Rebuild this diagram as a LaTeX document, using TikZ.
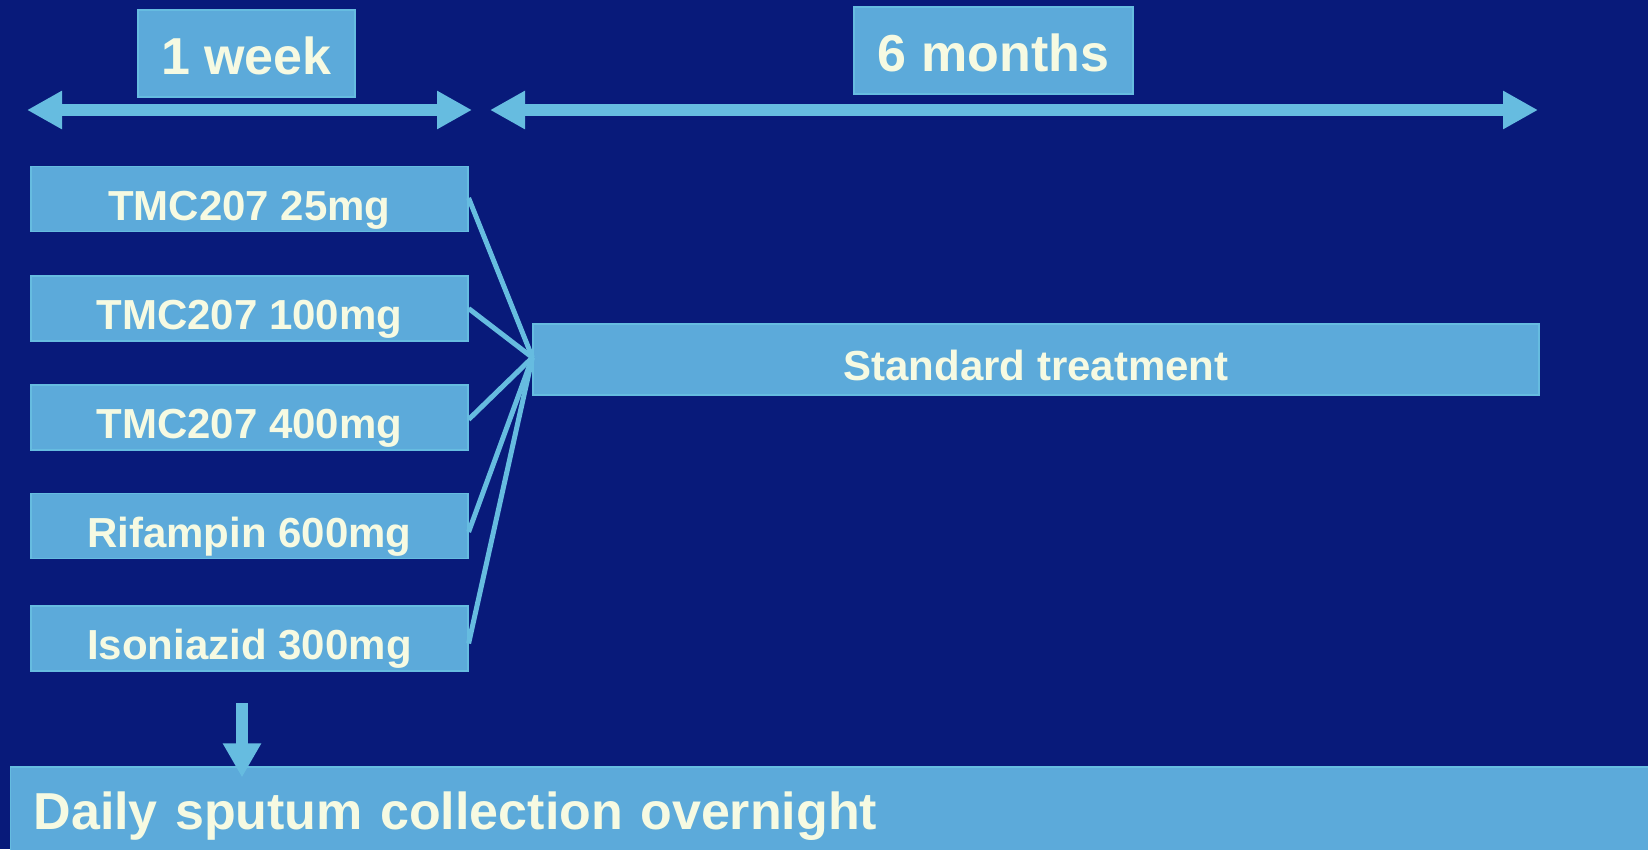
\documentclass[tikz,border=0pt]{standalone}
\usepackage{fontspec}
\setmainfont{Liberation Sans}
\usetikzlibrary{arrows.meta}

\definecolor{bgblue}{RGB}{8,26,122}
\definecolor{boxblue}{RGB}{92,170,218}
\definecolor{lineblue}{RGB}{102,188,224}
\definecolor{cream}{RGB}{246,250,226}

\tikzset{
  anybox/.style={fill=boxblue, draw=lineblue, line width=1.2pt, inner sep=0pt,
    text=cream, text depth=0pt},
  headbox/.style={anybox, minimum height=87pt, text height=41pt,
    font=\fontsize{52}{60}\selectfont\bfseries},
  drugbox/.style={anybox, minimum width=437pt, minimum height=65pt,
    text height=42pt, font=\fontsize{42}{50}\selectfont\bfseries},
  stdbox/.style={anybox, minimum width=1006pt, minimum height=71pt,
    text height=41pt, font=\fontsize{42}{50}\selectfont\bfseries},
  dailybox/.style={anybox, minimum height=84pt, inner xsep=23pt,
    text width=1592pt, align=left, text height=41pt,
    font=\fontsize{52}{60}\selectfont\bfseries},
  timespan/.style={lineblue, line width=12pt,
    {Triangle[length=35pt,width=36pt]}-{Triangle[length=35pt,width=36pt]}},
  feed/.style={lineblue, line width=5pt},
  drop/.style={lineblue, line width=12pt, -{Triangle[length=34pt,width=36pt]}}
}

\begin{document}
\begin{tikzpicture}[x=1pt,y=-1pt]

  \path[use as bounding box, fill=bgblue] (0,0) rectangle (1648,849);

  \begin{scope}   % time spans

    \def\Ty{110};
    \coordinate (W1) at (27,\Ty);
    \coordinate (W2) at (472,\Ty);
    \coordinate (M1) at (490,\Ty);
    \coordinate (M2) at (1538,\Ty);

    \draw[timespan] (W1)--(W2);
    \draw[timespan] (M1)--(M2);

    \node[headbox, minimum width=217pt] (week) at (246.5,53.5) {1 week};
    \node[headbox, minimum width=279pt] (months) at (993.5,50.5) {6 months};

  \end{scope}

  \begin{scope}   % arms of the trial

    \def\Dx{249.5};
    \node[drugbox] (tmcA) at (\Dx,199.0) {TMC207 25mg};
    \node[drugbox] (tmcB) at (\Dx,308.5) {TMC207 100mg};
    \node[drugbox] (tmcC) at (\Dx,417.5) {TMC207 400mg};
    \node[drugbox] (rif)  at (\Dx,526.0) {Rifampin 600mg};
    \node[drugbox] (inh)  at (\Dx,638.5) {Isoniazid 300mg};

    \node[stdbox] (std) at (1036,359.5) {Standard treatment};

    \foreach \n/\s in {tmcA/1,tmcB/0,tmcC/-2,rif/-6,inh/-5}
      \draw[feed] ([yshift=\s pt]\n.east) -- ([yshift=2pt]std.west);

  \end{scope}

  \begin{scope}   % sputum

    \node[dailybox, anchor=west] (daily) at (10,809)
         {Daily sputum collection overnight};

    \coordinate (D) at (242,703);
    \draw[drop] (D) -- ([yshift=-11pt]D |- daily.north);

  \end{scope}

\end{tikzpicture}
\end{document}
